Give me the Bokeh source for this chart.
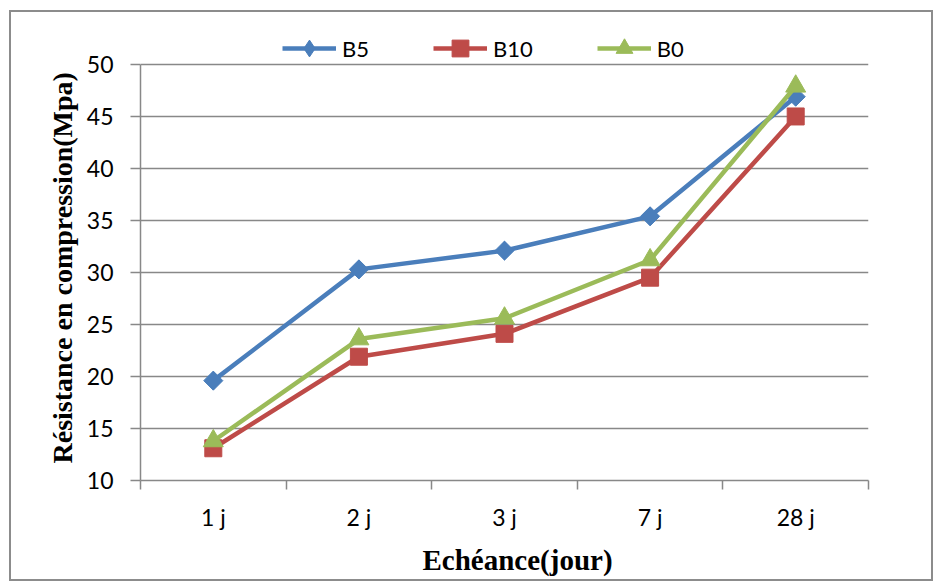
from bokeh.plotting import figure
from bokeh.models import FixedTicker, Legend, LegendItem, Range1d, Title
from bokeh.embed import file_html
from bokeh.resources import INLINE
import math

categories = ["1 j", "2 j", "3 j", "7 j", "28 j"]
b5 = [19.6, 30.3, 32.1, 35.4, 46.9]
b10 = [13.1, 21.9, 24.1, 29.5, 45.0]
b0 = [13.8, 23.6, 25.6, 31.2, 47.9]
y_ticks = [10, 15, 20, 25, 30, 35, 40, 45, 50]

xs = [i + 0.5 for i in range(len(categories))]

# frame extends above 50 to leave room for the legend inside it
p = figure(width=924, height=571, output_backend="svg", toolbar_location=None,
           x_range=Range1d(0, len(categories)), y_range=Range1d(10, 53.65),
           min_border_left=129, min_border_right=67, min_border_top=14, min_border_bottom=103)
p.styles = {"border": "2px solid #8c8c8c", "margin-left": "9px", "margin-top": "10px"}
p.outline_line_color = None
p.background_fill_color = "white"
p.border_fill_color = "white"

grid_col = "#888888"
tick_font = "Lato"
tick_size = "23px"
p.xgrid.visible = False
p.ygrid.ticker = FixedTicker(ticks=y_ticks)
p.ygrid.grid_line_color = grid_col
p.ygrid.grid_line_width = 1.5

# y axis
p.yaxis.ticker = FixedTicker(ticks=y_ticks)
p.yaxis.bounds = (10, 50)
p.yaxis.axis_line_color = grid_col
p.yaxis.axis_line_width = 1.5
p.yaxis.major_tick_line_color = grid_col
p.yaxis.major_tick_line_width = 1.5
p.yaxis.major_tick_out = 10
p.yaxis.major_tick_in = 0
p.yaxis.minor_tick_line_color = None
p.yaxis.major_label_text_font = tick_font
p.yaxis.major_label_text_font_size = tick_size
p.yaxis.major_label_text_color = "black"
p.yaxis.major_label_standoff = 17

ytitle = Title(text="Résistance en compression(Mpa)", align="left", offset=17, standoff=12,
               text_font="Liberation Serif", text_font_style="bold",
               text_font_size="28px", text_color="black")
p.add_layout(ytitle, "left")

# x axis
p.xaxis.ticker = FixedTicker(ticks=xs, minor_ticks=list(range(len(categories) + 1)))
p.xaxis.major_label_overrides = {x: c for x, c in zip(xs, categories)}
p.xaxis.axis_line_color = grid_col
p.xaxis.axis_line_width = 1.5
p.xaxis.major_tick_line_color = None
p.xaxis.major_tick_out = 0
p.xaxis.major_tick_in = 0
p.xaxis.minor_tick_line_color = grid_col
p.xaxis.minor_tick_line_width = 1.5
p.xaxis.minor_tick_out = 9
p.xaxis.minor_tick_in = 0
p.xaxis.major_label_text_font = tick_font
p.xaxis.major_label_text_font_size = tick_size
p.xaxis.major_label_text_color = "black"
p.xaxis.major_label_standoff = 13

xtitle = Title(text="Echéance(jour)", align="left", offset=282, standoff=16,
               text_font="Liberation Serif", text_font_style="bold",
               text_font_size="29px", text_color="black")
p.add_layout(xtitle, "below")

blue = "#4A7EBB"
red = "#BE4B48"
green = "#9BBB59"

l1 = p.line(xs, b5, line_color=blue, line_width=4.5)
# narrow diamond (used as the legend key), covered by the wider rotated square
k1 = p.scatter(xs, b5, marker="diamond", size=18, fill_color=blue, line_color=blue)
m1 = p.scatter(xs, b5, marker="square", angle=math.pi / 4, size=13.5, fill_color=blue, line_color=blue)
l2 = p.line(xs, b10, line_color=red, line_width=4.5)
m2 = p.scatter(xs, b10, marker="square", size=17, fill_color=red, line_color=red)
l3 = p.line(xs, b0, line_color=green, line_width=4.5)
m3 = p.scatter(xs, b0, marker="triangle", size=20, fill_color=green, line_color=green)

legend = Legend(items=[LegendItem(label="B5", renderers=[l1, k1]),
                       LegendItem(label="B10", renderers=[l2, m2]),
                       LegendItem(label="B0", renderers=[l3, m3])],
                orientation="horizontal", location=(142, 411),
                glyph_width=54, glyph_height=42, label_height=42, label_standoff=6,
                spacing=64, padding=0, margin=0,
                border_line_color=None, background_fill_alpha=0,
                label_text_font=tick_font, label_text_font_size="22px", label_text_color="black")
p.add_layout(legend, "center")

open("out.html", "w").write(file_html(p, INLINE))
